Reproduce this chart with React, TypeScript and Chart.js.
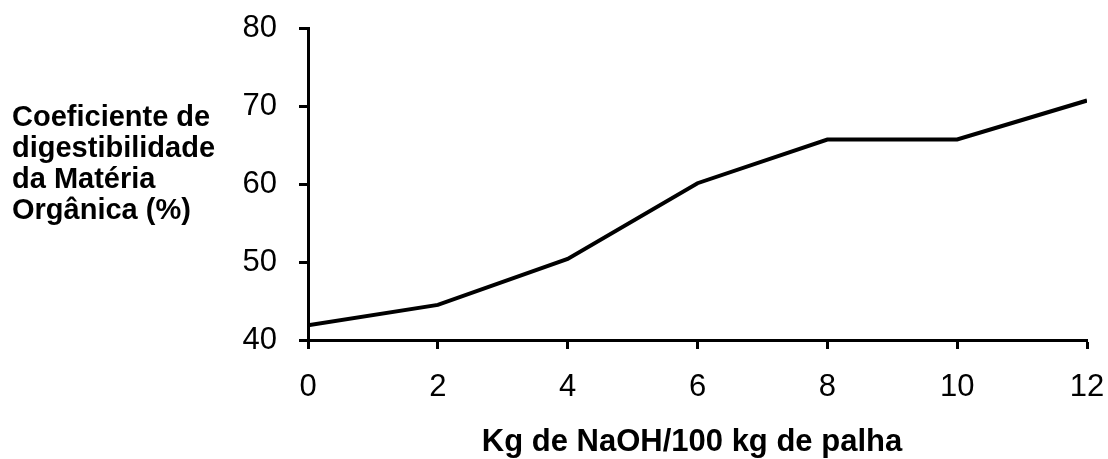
import { useEffect, useRef } from "react";
import { Chart, registerables } from "chart.js";

Chart.register(...registerables);

const naohLevels = [0, 2, 4, 6, 8, 10, 12];
const digestibility = [41.9, 44.5, 50.4, 60.1, 65.7, 65.7, 70.7];
const yTitleLines = ["Coeficiente de", "digestibilidade", "da Matéria", "Orgânica (%)"];
const xTitle = "Kg de NaOH/100 kg de palha";

const titlePlugin = {
  id: "customTitles",
  afterDraw(chart: any) {
    const ctx = chart.ctx;
    ctx.save();
    ctx.fillStyle = "#000";
    ctx.font = 'bold 29px "Liberation Sans", Arial, sans-serif';
    ctx.textAlign = "left";
    ctx.textBaseline = "alphabetic";
    yTitleLines.forEach((line, i) => {
      ctx.fillText(line, 12, 126 + i * 31);
    });
    ctx.font = 'bold 31px "Liberation Sans", Arial, sans-serif';
    ctx.textAlign = "center";
    ctx.fillText(xTitle, 692, 451);
    ctx.restore();
  },
};

const zeroPad = (s: any) => {
  s.paddingTop = 0;
  s.paddingBottom = 0;
  s.paddingLeft = 0;
  s.paddingRight = 0;
};

export default function App() {
  const ref = useRef<HTMLCanvasElement>(null);
  useEffect(() => {
    if (!ref.current) return;
    const chart = new Chart(ref.current, {
      type: "line",
      data: {
        datasets: [
          {
            data: naohLevels.map((x, i) => ({ x, y: digestibility[i] })),
            borderColor: "#000",
            borderWidth: 4,
            pointRadius: 0,
            tension: 0,
            fill: false,
          },
        ],
      },
      options: {
        animation: false,
        responsive: false,
        maintainAspectRatio: false,
        layout: { padding: { top: 28, right: 21, bottom: 0, left: 0 } },
        plugins: { legend: { display: false }, tooltip: { enabled: false }, title: { display: false } },
        scales: {
          x: {
            type: "linear",
            min: 0,
            max: 12,
            afterFit: (s: any) => {
              s.height = 119;
              zeroPad(s);
            },
            ticks: {
              stepSize: 2,
              color: "#000",
              padding: 20,
              maxRotation: 0,
              font: { family: '"Liberation Sans", Arial, sans-serif', size: 31 },
            },
            grid: { display: true, drawOnChartArea: false, drawTicks: true, tickLength: 9, tickWidth: 3, tickColor: "#000" },
            border: { display: true, color: "#000", width: 3 },
          },
          y: {
            min: 40,
            max: 80,
            afterFit: (s: any) => {
              s.width = 308;
              zeroPad(s);
            },
            ticks: {
              stepSize: 10,
              color: "#000",
              padding: 22,
              font: { family: '"Liberation Sans", Arial, sans-serif', size: 31 },
            },
            grid: { display: true, drawOnChartArea: false, drawTicks: true, tickLength: 9, tickWidth: 3, tickColor: "#000" },
            border: { display: true, color: "#000", width: 3 },
          },
        },
      },
      plugins: [titlePlugin],
    });
    return () => chart.destroy();
  }, []);
  return (
    <div style={{ position: "absolute", left: 0, top: 0, width: 1108, height: 459, background: "#fff" }}>
      <canvas ref={ref} width={1108} height={459} style={{ width: 1108, height: 459, display: "block" }} />
    </div>
  );
}
